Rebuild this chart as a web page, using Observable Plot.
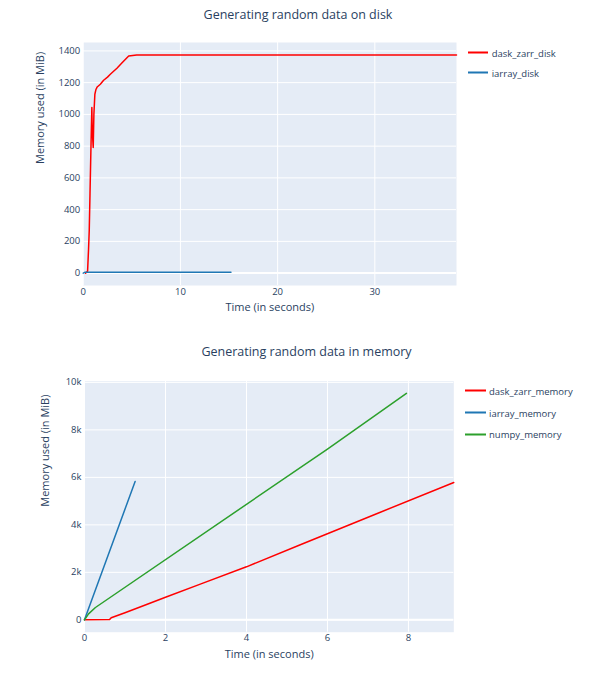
<!DOCTYPE html>
<html><head><meta charset="utf-8">
<script src="https://cdn.jsdelivr.net/npm/d3@7"></script>
<script src="https://cdn.jsdelivr.net/npm/@observablehq/plot@0.6"></script>
<style>
body{margin:0;background:#fff;font-family:"Open Sans",sans-serif;color:#2a3f5f}
#root{position:relative;width:595px;height:673px;overflow:hidden}
#root svg{position:absolute;left:0;overflow:visible}
.title{position:absolute;font-size:12.5px;white-space:nowrap;transform:translate(-50%,-50%)}
.leg{position:absolute;font-size:9.5px;display:flex;align-items:center;white-space:nowrap;transform:translateY(-50%)}
.leg span.sw{display:inline-block;width:20.5px;height:1.6px;margin-right:3.5px}
</style></head><body><div id="root"></div>
<script>
// ---- Chart 1: disk ----
const diskTitle = "Generating random data on disk";
const diskNames = ["dask_zarr_disk", "iarray_disk"];
const daskDiskTime = [0.24, 0.45, 0.55, 0.62, 0.7, 0.8, 0.89, 0.93, 1.03, 1.1, 1.2, 1.3, 1.44, 1.76, 2.1, 2.5, 2.79, 3.1, 3.47, 4.0, 4.68, 5.5, 6.5, 38.4];
const daskDiskMem  = [0, 12, 150, 266, 500, 800, 1043, 900, 791, 1000, 1127, 1155, 1173, 1190, 1215, 1235, 1253, 1270, 1291, 1325, 1368, 1374, 1375, 1375];
const iarrayDiskTime = [0, 0.2, 15.2];
const iarrayDiskMem  = [0, 6, 6];
const diskXTicks = [0, 10, 20, 30];
const diskYTicks = [0, 200, 400, 600, 800, 1000, 1200, 1400];

// ---- Chart 2: memory ----
const memTitle = "Generating random data in memory";
const memNames = ["dask_zarr_memory", "iarray_memory", "numpy_memory"];
const daskMemTime = [0, 0.62, 0.66, 1.0, 1.55, 2.0, 2.86, 4.0, 5.33, 7.23, 9.12];
const daskMemMem  = [0, 13, 90, 300, 660, 950, 1504, 2233, 3160, 4480, 5786];
const iarrayMemTime = [0, 1.25];
const iarrayMemMem  = [0, 5828];
const numpyMemTime = [0, 0.1, 0.27, 6.0, 7.95];
const numpyMemMem  = [0, 250, 520, 7193, 9537];
const memXTicks = [0, 2, 4, 6, 8];
const memYTicks = [0, 2000, 4000, 6000, 8000, 10000];

const xLabel = "Time (in seconds)";
const yLabel = "Memory used (in MiB)";

// styles
const COLORS = ["red", "#1f77b4", "#2ca02c"];
const ink = "#2a3f5f";

function zip(t, m, name) { return t.map((d, i) => ({t: d, m: m[i], name})); }

function chart(o) {
  const lines = o.series.map((s, i) =>
    Plot.line(s, {x: "t", y: "m", stroke: COLORS[i], strokeWidth: 1.5, curve: "linear"}));
  const svg = Plot.plot({
    width: 595, height: o.h,
    marginLeft: o.ml, marginRight: o.mr, marginTop: o.mt, marginBottom: o.mb,
    x: {domain: o.xDom}, y: {domain: o.yDom},
    style: {fontFamily: "'Open Sans', sans-serif", fontSize: "9.5px", color: ink, background: "transparent"},
    marks: [
      Plot.frame({fill: "#e5ecf6", stroke: "none"}),
      Plot.gridX(o.xTicks, {stroke: "#fff", strokeOpacity: 1, strokeWidth: 1}),
      Plot.gridY(o.yTicks, {stroke: "#fff", strokeOpacity: 1, strokeWidth: 1}),
      Plot.ruleY([0], {stroke: "#fff", strokeWidth: 2}),
      Plot.axisX(o.xTicks, {tickSize: 0, tickPadding: 2.5, label: null}),
      Plot.axisY(o.yTicks, {tickSize: 0, tickPadding: 3, label: null, tickFormat: o.yFmt}),
      ...lines,
      Plot.text([xLabel], {text: d => d, frameAnchor: "bottom", dy: o.xLabOff, fontSize: 11}),
      Plot.text([yLabel], {text: d => d, frameAnchor: "left", dx: -o.yLabOff, rotate: -90, fontSize: 11})
    ]
  });
  svg.style.top = o.top + "px";
  return svg;
}

const root = document.getElementById("root");

function addTitle(text, x, y) {
  const d = document.createElement("div");
  d.className = "title"; d.textContent = text;
  d.style.left = x + "px"; d.style.top = y + "px";
  root.appendChild(d);
}
function addLegend(names, x, y0, step) {
  names.forEach((n, i) => {
    const d = document.createElement("div");
    d.className = "leg";
    d.style.left = x + "px"; d.style.top = (y0 + i * step) + "px";
    const sw = document.createElement("span");
    sw.className = "sw"; sw.style.background = COLORS[i];
    const tx = document.createElement("span");
    tx.textContent = n;
    d.appendChild(sw); d.appendChild(tx);
    root.appendChild(d);
  });
}

root.appendChild(chart({
  top: 0, h: 330, ml: 82.7, mr: 139, mt: 42, mb: 45,
  xDom: [0, 38.4], yDom: [-78, 1453],
  xTicks: diskXTicks, yTicks: diskYTicks, yFmt: d => String(d),
  series: [zip(daskDiskTime, daskDiskMem, diskNames[0]), zip(iarrayDiskTime, iarrayDiskMem, diskNames[1])],
  xLabOff: 25, yLabOff: 42.7
}));
root.appendChild(chart({
  top: 330, h: 343, ml: 84, mr: 141.7, mt: 50.7, mb: 41.3,
  xDom: [0, 9.12], yDom: [-520, 10050],
  xTicks: memXTicks, yTicks: memYTicks, yFmt: d => d === 0 ? "0" : (d / 1000) + "k",
  series: [zip(daskMemTime, daskMemMem, memNames[0]), zip(iarrayMemTime, iarrayMemMem, memNames[1]), zip(numpyMemTime, numpyMemMem, memNames[2])],
  xLabOff: 26, yLabOff: 39
}));

addTitle(diskTitle, 298, 14);
addTitle(memTitle, 306.5, 351);
addLegend(diskNames, 467.7, 52.7, 20);
addLegend(memNames, 465, 390.7, 21.8);
</script></body></html>
